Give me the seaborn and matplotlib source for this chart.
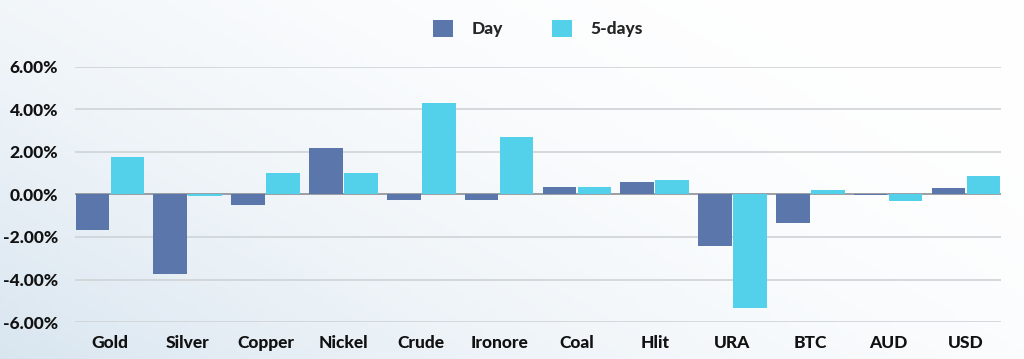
import matplotlib.pyplot as plt
import numpy as np
import pandas as pd
import seaborn as sns
from matplotlib.ticker import FuncFormatter

categories = ["Gold", "Silver", "Copper", "Nickel", "Crude", "Ironore",
              "Coal", "Hlit", "URA", "BTC", "AUD", "USD"]
day = [-1.67, -3.76, -0.48, 2.19, -0.26, -0.26, 0.37, 0.60, -2.41, -1.33, -0.02, 0.29]
five_days = [1.76, -0.05, 1.01, 1.01, 4.29, 2.69, 0.37, 0.68, -5.34, 0.23, -0.32, 0.89]
series_names = ["Day", "5-days"]
colors = ["#5A76AB", "#53D0EA"]
yticks = [-6, -4, -2, 0, 2, 4, 6]

df = pd.DataFrame({"Category": categories, "Day": day, "5-days": five_days})
plot_df = df.melt(id_vars="Category", value_vars=series_names,
                  var_name="Series", value_name="Change")

sns.set_theme(style="white")
plt.rcParams["font.family"] = ["Lato", "DejaVu Sans"]

fig = plt.figure(figsize=(10.24, 3.59), dpi=100)

# soft gradient background (bluish bottom-left to white top-right)
bg = fig.add_axes([0, 0, 1, 1], zorder=-10)
gx, gy = np.meshgrid(np.linspace(0, 1, 200), np.linspace(0, 1, 80))
t = np.clip(((1 - gx) * 0.8 + (1 - gy) * 0.5) / 1.3, 0, 1) ** 2.2
c0 = np.array([1.0, 1.0, 1.0])
c1 = np.array([0.85, 0.90, 0.94])
img = c0 + (c1 - c0) * t[..., None]
bg.imshow(img, aspect="auto", extent=[0, 1, 0, 1], origin="lower")
bg.axis("off")

ax = fig.add_axes([0.0732, 0.103, 0.9043, 0.7105])
ax.patch.set_alpha(0)

sns.barplot(data=plot_df, x="Category", y="Change", hue="Series",
            hue_order=series_names, palette=colors, width=0.9, gap=0.04,
            saturation=1, linewidth=0, ax=ax, legend=True, zorder=3)

ax.set_ylim(-6, 6)
ax.set_xlim(-0.45, len(categories) - 0.55)
ax.set_yticks(yticks)
ax.yaxis.set_major_formatter(FuncFormatter(lambda v, p: f"{v:.2f}%"))
for y in yticks:
    ax.axhline(y, color="#cfd3d6" if y != 0 else "#8c9094", lw=1.2, zorder=1)
ax.set_xlabel("")
ax.set_ylabel("")
for s in ax.spines.values():
    s.set_visible(False)
ax.tick_params(axis="both", length=0, labelsize=12.5)
ax.tick_params(axis="y", pad=12)
ax.tick_params(axis="x", pad=9)
for lbl in ax.get_xticklabels() + ax.get_yticklabels():
    lbl.set_fontweight("black")
    lbl.set_color("#111111")

handles, labels = ax.get_legend_handles_labels()
ax.legend(handles, labels, loc="center", bbox_to_anchor=(0.5, 1.15),
          ncol=2, frameon=False, handlelength=1.15, handleheight=1.15,
          columnspacing=2.85, handletextpad=1.05,
          prop={"weight": "black", "size": 12.5})

fig.savefig("out.png", dpi=100)
